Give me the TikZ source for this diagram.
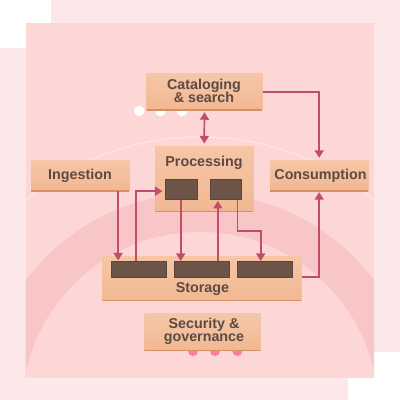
\documentclass[tikz,border=0pt]{standalone}
\usepackage{fontspec}
\setmainfont{Liberation Sans}
\usetikzlibrary{arrows.meta,calc}
\definecolor{backpink}{HTML}{FDE8E9}
\definecolor{mainpink}{HTML}{FDD6D6}
\definecolor{bandpink}{HTML}{F9C6C8}
\definecolor{woodtop}{HTML}{F6C6A6}
\definecolor{woodbot}{HTML}{F1B892}
\definecolor{woodedge}{HTML}{D98E63}
\definecolor{txtbrown}{HTML}{5C4A43}
\definecolor{slotfill}{HTML}{6D5449}
\definecolor{slotedge}{HTML}{5A463E}
\definecolor{arrowc}{HTML}{C24C6B}
\definecolor{dotpink}{HTML}{F77F9C}
\tikzset{
  wood/.style={rectangle, inner sep=0pt, top color=woodtop, bottom color=woodbot, draw=none,
    path picture={\draw[woodedge, line width=2pt]
      (path picture bounding box.south west) -- (path picture bounding box.south east);
      \draw[woodedge!50, line width=1.2pt]
      (path picture bounding box.south east) -- (path picture bounding box.north east);}},
  lbl/.style={inner sep=0pt, align=center, text=txtbrown,
    font=\fontsize{14.3}{13.6}\selectfont\bfseries},
  slot/.style={rectangle, inner sep=0pt, fill=slotfill, draw=slotedge, line width=0.5pt},
  arr/.style={arrowc, line width=1.7pt, -{Triangle[width=9pt,length=7.5pt]}},
  darr/.style={arrowc, line width=1.7pt, {Triangle[width=9pt,length=7.5pt]}-{Triangle[width=9pt,length=7.5pt]}},
  dotw/.style={circle, fill=white, inner sep=0pt, minimum size=10.6pt},
  dotp/.style={circle, fill=dotpink, inner sep=0pt, minimum size=10pt}
}
\begin{document}
\begin{tikzpicture}[x=1pt,y=-1pt]
\useasboundingbox (0,0) rectangle (400,400);
\fill[white] (0,0) rectangle (400,400);
% back panels
\fill[backpink] (51,0) rectangle (400,352);
\fill[backpink] (0,48) rectangle (348,400);
% main panel
\fill[mainpink] (25.7,22.7) rectangle (374,377.5);
\begin{scope}
  \clip (25.7,22.7) rectangle (374,377.5);
  \fill[bandpink] (200,410) circle[radius=217pt];
  \fill[mainpink] (200,410) circle[radius=178pt];
  \draw[white, opacity=0.3, line width=2pt] (200,410) circle[radius=273pt];
\end{scope}
% dots (behind boxes)
\node[dotw] (w1) at (139.3,111) {};
\node[dotw] (w2) at (160.5,111) {};
\node[dotw] (w3) at (182,111) {};
\node[dotp] (q1) at (193,351) {};
\node[dotp] (q2) at (215,351) {};
\node[dotp] (q3) at (237.3,351) {};
% boxes
\node[wood, minimum width=115.6pt, minimum height=36.7pt] (cat) at (204.5,91.7) {};
\node[lbl] (cattxt) at (204,91) {Cataloging\\\& search};
\node[wood, minimum width=98.3pt, minimum height=65pt] (proc) at (204.2,179.2) {};
\node[lbl] (proctxt) at (204,162.5) {Processing};
\node[slot, minimum width=31.6pt, minimum height=20.3pt] (p1) at (181.5,189.2) {};
\node[slot, minimum width=31.7pt, minimum height=20.3pt] (p2) at (225.8,189.2) {};
\node[wood, minimum width=98.3pt, minimum height=31pt] (ing) at (80.2,175.5) {};
\node[lbl] (ingtxt) at (80,176) {Ingestion};
\node[wood, minimum width=98.3pt, minimum height=31pt] (cons) at (319.2,175.5) {};
\node[lbl] (constxt) at (320.5,176) {Consumption};
\node[wood, minimum width=199.4pt, minimum height=44pt] (stor) at (202,278.7) {};
\node[lbl] (stortxt) at (202.5,289.5) {Storage};
\node[slot, minimum width=55.3pt, minimum height=16pt] (s1) at (138.7,269.7) {};
\node[slot, minimum width=55.7pt, minimum height=16pt] (s2) at (201.8,269.7) {};
\node[slot, minimum width=55.4pt, minimum height=16pt] (s3) at (265,269.7) {};
\node[wood, minimum width=116.4pt, minimum height=37.4pt] (sec) at (202.5,332) {};
\node[lbl] (sectxt) at (204,331.5) {Security \&\\governance};
% connectors
\coordinate (k) at (260.7,231);
\draw[darr] ([yshift=-2pt]cat.south) -- ([yshift=3pt]proc.north);
\draw[arr] (cat.east) -| ([yshift=2pt]cons.north);
\draw[arr] ([xshift=7.3pt]s1.north west |- ing.south) -- ([xshift=7.3pt,yshift=1pt]s1.north west);
\draw[arr] ([xshift=25pt]s1.north west) |- ([xshift=-3pt,yshift=-2pt]p1.west);
\draw[arr] ([xshift=-0.8pt]p1.south) -- ([xshift=-0.8pt,yshift=0.5pt]p1.south |- s2.north);
\draw[arr] ([xshift=8.2pt]p2.south west |- s2.north) -- ([xshift=8.2pt,yshift=-1.3pt]p2.south west);
\draw[arr] ([xshift=-4.5pt]p2.south east) |- (k) -- ([yshift=0.5pt]k |- s3.north);
\draw[arr] ([yshift=1.5pt]stor.east) -| ([yshift=-1pt]cons.south);
\end{tikzpicture}
\end{document}
